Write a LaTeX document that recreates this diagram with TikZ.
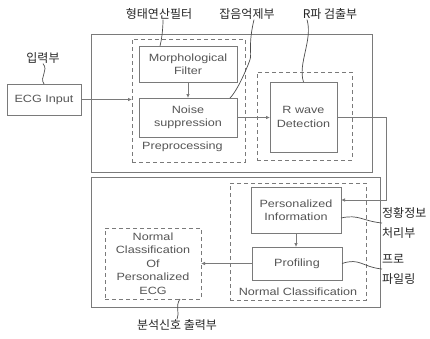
\documentclass[tikz,border=0pt]{standalone}
\usepackage{fontspec}
\setmainfont[FakeStretch=1.2]{Liberation Sans}
\newfontfamily\kr{Noto Sans CJK KR}
\usetikzlibrary{arrows.meta}
\definecolor{linegray}{HTML}{7A7A7A}
\definecolor{textgray}{HTML}{555555}
\begin{document}
\begin{tikzpicture}[x=1pt, y=-1pt,
  box/.style={draw=linegray, line width=0.9pt, inner sep=1pt, outer sep=0pt,
    align=center, text=textgray, font=\fontsize{10.5}{13.5}\selectfont},
  dbox/.style={box, dash pattern=on 4pt off 3pt},
  tag/.style={font=\kr\fontsize{12}{20}\selectfont, text=black!85, inner sep=0pt, align=left},
  arr/.style={draw=linegray, line width=0.8pt, -{Latex[length=4pt,width=3.6pt]}},
  wig/.style={draw=black!70, line width=0.7pt}]
  \useasboundingbox (0,0) rectangle (430,338);
  \node[box, minimum width=281pt, minimum height=138pt] (upper) at (231.5,103) {};
  \node[box, minimum width=289pt, minimum height=130pt] (lower) at (235.5,242) {};
  \node[box, minimum width=74pt, minimum height=31pt] (ecg) at (44,99.5) {ECG Input};
  \node[dbox, minimum width=113pt, minimum height=123pt] (pre) at (188.5,100.5) {};
  \node[box, minimum width=98pt, minimum height=36pt] (morph) at (188,64) {Morphological\\Filter};
  \node[box, minimum width=98pt, minimum height=39pt] (noise) at (188,117.5) {Noise\\suppression};
  \node[text=textgray, font=\fontsize{10.5}{13.5}\selectfont, anchor=west, inner sep=0pt] (prelbl) at (142,147) {Preprocessing};
  \node[dbox, minimum width=95pt, minimum height=88pt] (rdash) at (304.5,116) {};
  \node[box, minimum width=67pt, minimum height=70pt] (rwave) at (303.5,117) {R wave\\Detection};
  \node[dbox, minimum width=136pt, minimum height=117pt] (ncls) at (298,241.5) {};
  \node[box, minimum width=90pt, minimum height=46pt] (info) at (296,210) {Personalized\\Information};
  \node[box, minimum width=90pt, minimum height=33pt] (prof) at (297,263.5) {Profiling};
  \node[text=textgray, font=\fontsize{10.5}{13.5}\selectfont, inner sep=0pt] (nclslbl) at (298,291.5) {Normal Classification};
  \node[dbox, minimum width=96pt, minimum height=71pt] (ncp) at (153,263.5) {Normal\\Classification\\Of\\Personalized\\ECG};
  \node[tag] (lin) at (43,58) {입력부};
  \node[tag] (lmorph) at (159,14) {형태연산필터};
  \node[tag] (lnoise) at (247,14) {잡음억제부};
  \node[tag] (lrw) at (330,14) {R파 검출부};
  \node[tag, anchor=west] (linfo) at (382,223) {정황정보\\처리부};
  \node[tag, anchor=west] (lprof) at (382,269) {프로\\파일링};
  \node[tag] (lout) at (177,325) {분석신호 출력부};
  \coordinate (bend) at (386,200);
  \draw[arr] (ecg.east) -- (ecg.east -| pre.west);
  \draw[arr] (morph) -- (noise);
  \draw[arr] (noise.east) -- (noise.east -| rwave.west);
  \draw[arr] (rwave.east) -| (bend) -- (bend -| info.east);
  \draw[arr] (info.south) -- (info.south |- prof.north);
  \draw[arr] (prof.west) -- (prof.west -| ncp.east);
  \draw[wig] (lin.south) .. controls +(6,7) and +(-5,-7) .. (ecg.north);
  \draw[wig] ([xshift=4pt]lmorph.south) .. controls +(0,8) and +(2,-8) .. ([xshift=-28pt]morph.north);
  \draw[wig] ([xshift=7pt]lnoise.south) .. controls +(-6,25) and +(2,-6) .. ++(-4,40)
    .. controls +(-2,6) and +(8,-8) .. ([xshift=-7pt]noise.north east);
  \draw[wig] ([xshift=-23pt]lrw.south) .. controls +(6,20) and +(-6,-18) .. (rwave.north);
  \draw[wig] ([yshift=-8pt]info.east) .. controls +(18,-4) and +(-20,-2) .. (linfo.west);
  \draw[wig] (prof.east) .. controls +(18,-6) and +(-20,-2) .. (lprof.west);
  \draw[wig] ([xshift=27pt]ncp.south) .. controls +(-5,7) and +(3,-6) .. (lout.north);
\end{tikzpicture}
\end{document}
